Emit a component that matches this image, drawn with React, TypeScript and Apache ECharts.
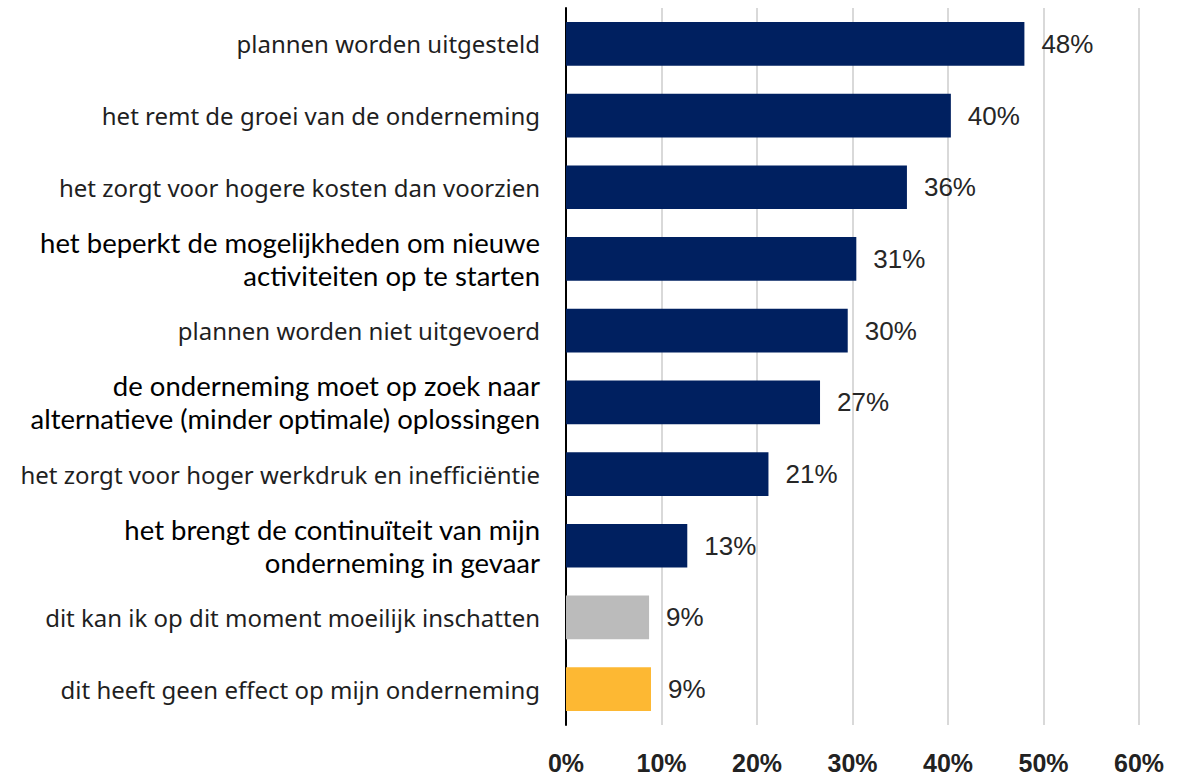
import React, { useEffect, useRef } from "react";
import * as echarts from "echarts";

const categories = [
  "plannen worden uitgesteld",
  "het remt de groei van de onderneming",
  "het zorgt voor hogere kosten dan voorzien",
  "het beperkt de mogelijkheden om nieuwe\nactiviteiten op te starten",
  "plannen worden niet uitgevoerd",
  "de onderneming moet op zoek naar\nalternatieve (minder optimale) oplossingen",
  "het zorgt voor hoger werkdruk en inefficiëntie",
  "het brengt de continuïteit van mijn\nonderneming in gevaar",
  "dit kan ik op dit moment moeilijk inschatten",
  "dit heeft geen effect op mijn onderneming",
];
const values = [48.0, 40.3, 35.7, 30.4, 29.5, 26.6, 21.2, 12.7, 8.7, 8.9];
const labels = ["48%", "40%", "36%", "31%", "30%", "27%", "21%", "13%", "9%", "9%"];
const colors = ["#002060", "#002060", "#002060", "#002060", "#002060", "#002060", "#002060", "#002060", "#BBBBBB", "#FDB833"];
const xTicks = [0, 10, 20, 30, 40, 50, 60];

export default function App() {
  const ref = useRef<HTMLDivElement>(null);
  useEffect(() => {
    const chart = echarts.init(ref.current!, null, { renderer: "svg" });
    chart.setOption({
      animation: false,
      grid: { left: 566, right: 54, top: 8, bottom: 50, containLabel: false },
      xAxis: {
        type: "value",
        min: xTicks[0],
        max: xTicks[xTicks.length - 1],
        interval: 10,
        axisLine: { show: false },
        axisTick: { show: false },
        splitLine: { show: true, lineStyle: { color: "#d9d9d9", width: 2 } },
        axisLabel: {
          formatter: (v: number) => v + "%",
          fontFamily: "'Liberation Sans Narrow', 'Liberation Sans', sans-serif",
          fontWeight: "bold",
          fontSize: 25,
          color: "#222222",
          margin: 25,
        },
      },
      yAxis: {
        type: "category",
        data: categories,
        inverse: true,
        axisLine: { show: true, lineStyle: { color: "#000000", width: 2 } },
        axisTick: { show: false },
        axisLabel: {
          margin: 26,
          align: "right",
          formatter: (v: string) => {
            if (v.indexOf("\n") >= 0) {
              return v.split("\n").map((l) => "{b|" + l + "}").join("\n");
            }
            return "{a|" + v + "}";
          },
          rich: {
            a: {
              fontFamily: "'Noto Sans', sans-serif",
              fontSize: 24,
              color: "#1f1f1f",
              align: "right",
            },
            b: {
              fontFamily: "Lato, sans-serif",
              fontSize: 27.5,
              lineHeight: 33,
              color: "#000000",
              align: "right",
            },
          },
        },
      },
      series: [
        {
          type: "bar",
          barWidth: "61%",
          data: values.map((v, i) => ({ value: v, itemStyle: { color: colors[i] } })),
          label: {
            show: true,
            position: "right",
            distance: 17,
            formatter: (p: any) => labels[p.dataIndex],
            fontFamily: "'Liberation Sans', Arial, sans-serif",
            fontSize: 26,
            color: "#262626",
          },
        },
      ],
    });
    return () => chart.dispose();
  }, []);
  return (
    <div
      ref={ref}
      style={{ position: "absolute", left: 0, top: 0, width: 1193, height: 775, background: "#fff" }}
    />
  );
}
